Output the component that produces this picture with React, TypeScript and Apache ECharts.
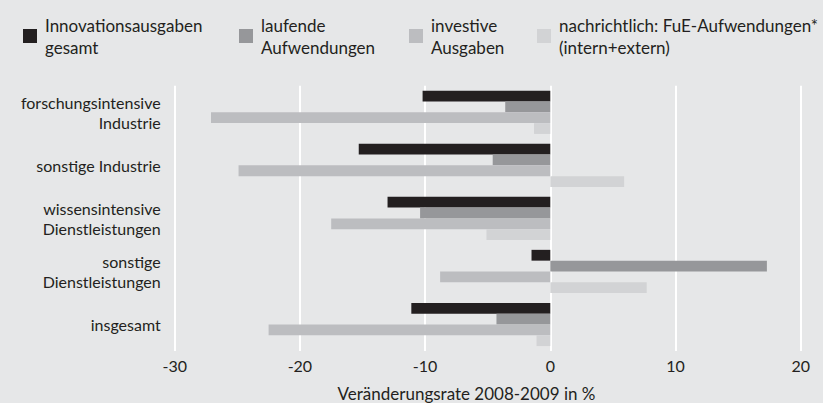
import React, { useEffect, useRef } from "react";
import * as echarts from "echarts";

const categories = [
  "forschungsintensive\nIndustrie",
  "sonstige Industrie",
  "wissensintensive\nDienstleistungen",
  "sonstige\nDienstleistungen",
  "insgesamt",
];

const seriesNames = [
  "Innovationsausgaben gesamt",
  "laufende Aufwendungen",
  "investive Ausgaben",
  "nachrichtlich: FuE-Aufwendungen* (intern+extern)",
];

const legendLabels = [
  "Innovationsausgaben\ngesamt",
  "laufende\nAufwendungen",
  "investive\nAusgaben",
  "nachrichtlich: FuE-Aufwendungen*\n(intern+extern)",
];

const innovationsausgaben = [-10.2, -15.3, -13.0, -1.5, -11.1];
const laufende = [-3.6, -4.6, -10.4, 17.3, -4.3];
const investive = [-27.1, -24.9, -17.5, -8.8, -22.5];
const fue = [-1.3, 5.9, -5.1, 7.7, -1.1];

const xTicks = { min: -30, max: 20, interval: 10 };
const axisTitle = "Veränderungsrate 2008-2009 in %";

const colors = ["#231f20", "#96979a", "#bcbdc0", "#d2d3d5"];
const legendLefts = [18, 234, 404, 532];
const FONT = "Lato, 'Open Sans', sans-serif";
const TEXT = "#231f20";

export default function App() {
  const ref = useRef<HTMLDivElement>(null);
  useEffect(() => {
    document.body.style.margin = "0";
    if (!ref.current) return;
    const chart = echarts.init(ref.current, undefined, { renderer: "svg" });
    const values = [innovationsausgaben, laufende, investive, fue];
    chart.setOption({
      animation: false,
      backgroundColor: "#e6e7e8",
      textStyle: { fontFamily: FONT },
      legend: seriesNames.map((n, i) => ({
        data: [n],
        left: legendLefts[i],
        top: 9,
        icon: "rect",
        itemWidth: 14,
        itemHeight: 14,
        formatter: () => legendLabels[i],
        textStyle: {
          fontFamily: FONT,
          fontSize: 17,
          lineHeight: 22,
          color: TEXT,
          padding: [0, 0, 0, 3],
        },
      })),
      grid: { left: 174.7, right: 22.3, top: 85.8, bottom: 52 },
      xAxis: {
        type: "value",
        min: xTicks.min,
        max: xTicks.max,
        interval: xTicks.interval,
        axisLine: { show: false },
        axisTick: { show: false },
        splitLine: { show: true, lineStyle: { color: "#ffffff", width: 2 } },
        axisLabel: { color: TEXT, fontSize: 16, fontFamily: FONT, margin: 6 },
      },
      yAxis: {
        type: "category",
        inverse: true,
        data: categories,
        axisLine: { show: false },
        axisTick: { show: false },
        splitLine: { show: false },
        axisLabel: {
          color: TEXT,
          fontSize: 16,
          lineHeight: 20,
          fontFamily: FONT,
          align: "right",
          margin: 14,
        },
      },
      graphic: [
        {
          type: "text",
          x: 466.5,
          y: 393,
          style: {
            text: axisTitle,
            fontFamily: FONT,
            fontSize: 17,
            fill: TEXT,
            textAlign: "center",
            textVerticalAlign: "middle",
          },
        },
      ],
      series: seriesNames.map((n, i) => ({
        name: n,
        type: "bar",
        data: values[i],
        barWidth: 10.8,
        barGap: "0%",
        itemStyle: { color: colors[i] },
      })),
    });
    return () => chart.dispose();
  }, []);
  return <div ref={ref} style={{ width: 823, height: 403 }} />;
}
